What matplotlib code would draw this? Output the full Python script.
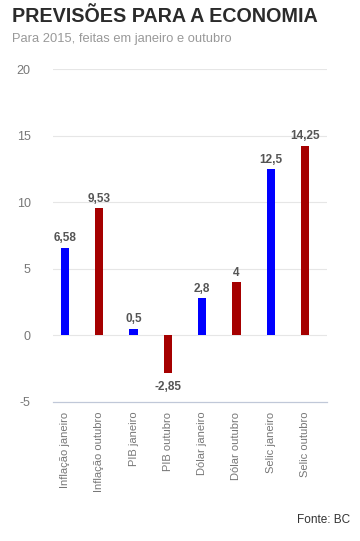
import matplotlib
matplotlib.use("Agg")
import matplotlib.pyplot as plt

categories = ["Inflação janeiro", "Inflação outubro", "PIB janeiro", "PIB outubro",
              "Dólar janeiro", "Dólar outubro", "Selic janeiro", "Selic outubro"]
values = [6.58, 9.53, 0.5, -2.85, 2.8, 4, 12.5, 14.25]
value_labels = ["6,58", "9,53", "0,5", "-2,85", "2,8", "4", "12,5", "14,25"]
colors = ["#0000FF", "#A50000"] * 4
yticks = [-5, 0, 5, 10, 15, 20]

plt.rcParams['font.family'] = ['Liberation Sans', 'DejaVu Sans']

fig = plt.figure(figsize=(3.6, 5.41), dpi=100)
ax = fig.add_axes([53/360, 1-402/541, (327-53)/360, (402-69)/541])

x = list(range(len(categories)))
ax.bar(x, values, width=0.24, color=colors, zorder=3)
for xi, v, lab in zip(x, values, value_labels):
    if v >= 0:
        ax.text(xi, v + 0.25, lab, ha='center', va='bottom', fontsize=8.5,
                fontweight='bold', color='#555555')
    else:
        ax.text(xi, v - 0.6, lab, ha='center', va='top', fontsize=8.5,
                fontweight='bold', color='#555555')

ax.set_ylim(-5, 20)
ax.set_xlim(-0.35, 7.64)
ax.set_yticks(yticks)
ax.set_yticklabels([str(t) for t in yticks], fontsize=9, color='#777777')
ax.set_xticks(x)
ax.set_xticklabels(categories, rotation=90, fontsize=8, color='#777777')
ax.tick_params(axis='y', length=0, pad=16)
ax.tick_params(axis='x', length=0, pad=7)
for t in yticks:
    if t == -5:
        continue
    ax.axhline(t, color='#e6e6e6', lw=0.8, zorder=1)
for s in ['top', 'right', 'left']:
    ax.spines[s].set_visible(False)
ax.spines['bottom'].set_color('#c0c8d8')
ax.spines['bottom'].set_linewidth(0.9)

fig.text(12/360, 1-16/541, "PREVISÕES PARA A ECONOMIA", fontsize=14.2, fontweight='bold',
         color='#2b2b2b', va='center', ha='left')
fig.text(12/360, 1-39/541, "Para 2015, feitas em janeiro e outubro", fontsize=9.3,
         color='#999999', va='center', ha='left')
fig.text(350/360, 1-520/541, "Fonte: BC", fontsize=8.5, color='#333333', va='center', ha='right')

fig.savefig("out.png", dpi=100)
